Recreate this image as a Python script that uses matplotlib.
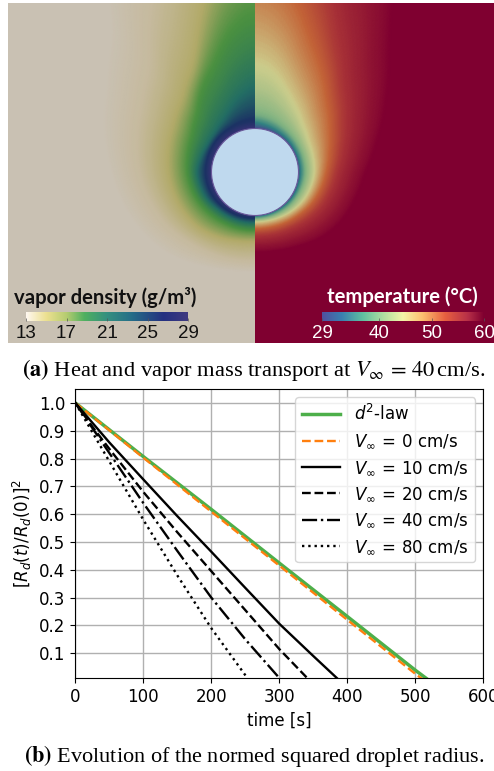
import matplotlib
matplotlib.use("Agg")
import matplotlib.pyplot as plt
import numpy as np
from matplotlib.colors import LinearSegmentedColormap, Normalize
from matplotlib.patches import Circle
from matplotlib.transforms import Bbox, TransformedBbox

# angle from the flow axis (0 = up, 180 = down), degrees
angles = [0, 5, 10, 15, 20, 25, 30, 45, 60, 75, 90, 105, 120, 135, 150, 165, 180]

# radius (in droplet radii) at which each level is reached, per angle
vapor_levels = [29, 27, 24, 20.5, 17, 14.5, 13]
vapor_radii = [
    [1.00] * 17,
    [1.20, 1.195, 1.19, 1.185, 1.18, 1.175, 1.17, 1.17, 1.16, 1.15, 1.15, 1.14, 1.13, 1.11, 1.09, 1.08, 1.07],
    [2.00, 1.90, 1.80, 1.70, 1.60, 1.50, 1.42, 1.30, 1.27, 1.30, 1.35, 1.31, 1.28, 1.22, 1.20, 1.19, 1.18],
    [3.70, 3.50, 3.30, 3.00, 2.70, 2.52, 2.38, 1.90, 1.68, 1.60, 1.56, 1.51, 1.46, 1.41, 1.37, 1.36, 1.35],
    [7.00, 6.00, 5.00, 4.25, 3.65, 3.15, 2.80, 2.35, 2.15, 2.05, 1.98, 1.92, 1.87, 1.82, 1.72, 1.63, 1.59],
    [10.0, 9.60, 9.00, 7.50, 6.20, 5.30, 4.70, 3.40, 3.00, 2.80, 2.65, 2.50, 2.38, 2.22, 2.13, 2.08, 2.05],
    [13.0, 12.5, 12.0, 10.3, 9.00, 7.90, 7.00, 4.70, 4.00, 3.65, 3.35, 3.15, 2.95, 2.75, 2.50, 2.35, 2.30],
]

temp_levels = [29, 33, 37, 42, 49, 55, 60]
temp_radii = [
    [1.00] * 17,
    [1.15, 1.135, 1.12, 1.11, 1.10, 1.09, 1.08, 1.07, 1.06, 1.06, 1.06, 1.05, 1.05, 1.04, 1.03, 1.03, 1.03],
    [1.35, 1.335, 1.32, 1.30, 1.28, 1.26, 1.24, 1.20, 1.18, 1.17, 1.17, 1.15, 1.13, 1.12, 1.10, 1.09, 1.09],
    [2.50, 2.45, 2.35, 2.20, 2.05, 1.92, 1.80, 1.55, 1.42, 1.39, 1.38, 1.34, 1.30, 1.25, 1.20, 1.17, 1.16],
    [5.00, 4.75, 4.40, 3.95, 3.50, 3.20, 2.95, 2.35, 2.00, 1.78, 1.65, 1.57, 1.50, 1.42, 1.37, 1.33, 1.32],
    [8.00, 7.30, 6.50, 5.60, 4.80, 4.20, 3.70, 2.85, 2.40, 2.10, 1.90, 1.80, 1.72, 1.62, 1.54, 1.50, 1.48],
    [12.0, 11.6, 11.0, 9.80, 8.50, 7.40, 6.50, 4.50, 3.60, 3.00, 2.60, 2.45, 2.35, 2.20, 2.02, 1.92, 1.88],
]

vapor_ticks = [13, 17, 21, 25, 29]
temp_ticks = [29, 40, 50, 60]

# evaporation curves
t_d2 = [0, 100, 200, 300, 400, 500, 517]
r_d2 = [1.0, 0.807, 0.617, 0.424, 0.232, 0.039, 0.008]
t_0 = [0, 100, 200, 300, 400, 500, 512]
r_0 = [1.0, 0.803, 0.609, 0.415, 0.220, 0.026, 0.004]
t_10 = [0, 25, 50, 100, 150, 200, 250, 300, 350, 385]
r_10 = [1.0, 0.929, 0.858, 0.725, 0.593, 0.465, 0.335, 0.206, 0.09, 0.01]
t_20 = [0, 25, 50, 100, 150, 200, 250, 300, 341]
r_20 = [1.0, 0.915, 0.835, 0.68, 0.535, 0.395, 0.255, 0.115, 0.011]
t_40 = [0, 25, 50, 100, 150, 200, 250, 300]
r_40 = [1.0, 0.91, 0.82, 0.64, 0.468, 0.30, 0.15, 0.011]
t_80 = [0, 25, 50, 100, 150, 200, 253]
r_80 = [1.0, 0.895, 0.79, 0.58, 0.38, 0.19, 0.011]

W, H = 494, 771


def px_axes(fig, x0, y0, x1, y1):
    return fig.add_axes([x0 / W, 1 - y1 / H, (x1 - x0) / W, (y1 - y0) / H])


def box_smooth(a, n, axis):
    pad = [(0, 0), (0, 0)]
    pad[axis] = (n, n)
    a = np.pad(a, pad, mode="reflect" if axis == 1 else "edge")
    kernel = np.ones(n) / n
    a = np.apply_along_axis(lambda v: np.convolve(v, kernel, mode="same"), axis, a)
    return a[n:-n] if axis == 0 else a[:, n:-n]


def draw_field(ax, radii, levels, side, cmap, norm):
    # the table is coarse, so resample it to get a continuous shading
    th = np.arange(0.0, 181.0)
    log_r = np.array([np.interp(th, angles, row) for row in np.log(radii)])
    s = np.arange(len(levels))
    s_fine = np.linspace(0, len(levels) - 1, 90)
    log_r = np.array([np.interp(s_fine, s, col) for col in log_r.T]).T
    for _ in range(2):
        log_r = box_smooth(log_r, 7, 1)
        log_r = box_smooth(log_r, 5, 0)
    r = np.exp(log_r)
    r[0] = 0.9  # hidden by the droplet
    c = np.interp(s_fine, s, levels)[:, None] * np.ones(len(th))
    x = side * r * np.sin(np.radians(th))
    y = r * np.cos(np.radians(th))
    mesh = ax.pcolormesh(x, y, c, shading="gouraud", cmap=cmap, norm=norm)
    # keep the two halves from bleeding over the centre line
    x0, x1 = ax.get_xlim()
    y0, y1 = ax.get_ylim()
    half = Bbox([[0, y0], [x1, y1]]) if side > 0 else Bbox([[x0, y0], [0, y1]])
    mesh.set_clip_box(TransformedBbox(half, ax.transData))


def colorbar(fig, x0, x1, ticks, cmap, color):
    ax = px_axes(fig, x0, 312, x1, 321)
    grad = np.linspace(ticks[0], ticks[-1], 256)[None, :]
    ax.imshow(grad, aspect="auto", cmap=cmap, extent=[ticks[0], ticks[-1], 0, 1])
    ax.set_yticks([])
    ax.set_xticks(ticks)
    ax.set_xticklabels([str(v) for v in ticks], family="Liberation Sans", fontsize=13.5, color=color)
    ax.tick_params(axis="x", direction="in", length=2, width=0.5, color="#555555", pad=3)
    for s in ax.spines.values():
        s.set_visible(False)


def main():
    vapor_field = LinearSegmentedColormap.from_list("vf", [
        (0.0, "#c9c1b3"), (1.5 / 16, "#c6ba9e"), (4 / 16, "#b2aa69"), (7.5 / 16, "#4a9040"),
        (11 / 16, "#236e64"), (14 / 16, "#1c3264"), (1.0, "#3c3278")])
    temp_field = LinearSegmentedColormap.from_list("tf", [
        (0.0, "#4a4a90"), (4 / 31, "#328282"), (8 / 31, "#82b482"), (13 / 31, "#cdcd8c"),
        (20 / 31, "#c36437"), (26 / 31, "#a83237"), (1.0, "#7f0030")])
    vapor_bar = LinearSegmentedColormap.from_list("vb", [
        (0.0, "#fff8f0"), (0.125, "#ece090"), (0.25, "#b5cc70"), (0.36, "#50b060"),
        (0.5, "#349080"), (0.65, "#256e88"), (0.85, "#243080"), (1.0, "#403a80")])
    temp_bar = LinearSegmentedColormap.from_list("tb", [
        (0.0, "#5050a0"), (0.12, "#3a80b0"), (0.25, "#60c0a0"), (0.38, "#b0e0a0"), (0.5, "#f4f4a8"),
        (0.62, "#fdc070"), (0.76, "#e86040"), (0.9, "#b83048"), (1.0, "#800030")])

    fig = plt.figure(figsize=(W / 100, H / 100), dpi=100)

    # upper panel
    ax = px_axes(fig, 8, 3, 494, 343)
    ax.axis("off")
    R = 43.5
    ax.set_xlim((8 - 255) / R, (494 - 255) / R)
    ax.set_ylim((172 - 343) / R, (172 - 3) / R)
    ax.add_patch(plt.Rectangle((-10, -10), 10, 20, color="#c9c1b3", lw=0, zorder=0))
    ax.add_patch(plt.Rectangle((0, -10), 10, 20, color="#7f0030", lw=0, zorder=0))
    draw_field(ax, vapor_radii, vapor_levels, -1, vapor_field, Normalize(13, 29))
    draw_field(ax, temp_radii, temp_levels, 1, temp_field, Normalize(29, 60))
    ax.set_xlim((8 - 255) / R, (494 - 255) / R)
    ax.set_ylim((172 - 343) / R, (172 - 3) / R)
    ax.add_patch(Circle((0, 0), 1.0, fc="#bfd9ee", ec="#6a5a9a", lw=0.8, zorder=5))

    fig.text(14 / W, 1 - 297 / H, "vapor density (g/m³)", family="Lato", weight="bold",
             fontsize=14.6, color="#111111", va="center")
    fig.text(327 / W, 1 - 297 / H, "temperature (°C)", family="Lato", weight="bold",
             fontsize=14.6, color="white", va="center")
    colorbar(fig, 26, 188, vapor_ticks, vapor_bar, "#111111")
    colorbar(fig, 322, 484, temp_ticks, temp_bar, "white")

    fig.text(254 / W, 1 - 370 / H, r"$\mathbf{(a)}$ Heat and vapor mass transport at $V_\infty\,=\,40\,$cm/s.",
             family="Liberation Serif", math_fontfamily="stix", fontsize=16.2, ha="center", va="center")

    # lower panel
    ax = px_axes(fig, 75.3, 389, 483.3, 678)
    ax.plot(t_d2, r_d2, color="#4daf4a", lw=2.5, label=r"$d^2$-law")
    ax.plot(t_0, r_0, color="#ff7f0e", lw=1.7, ls="--", label=r"$V_\infty\,=\,0$ cm/s")
    ax.plot(t_10, r_10, color="black", lw=1.7, ls="-", label=r"$V_\infty\,=\,10$ cm/s")
    ax.plot(t_20, r_20, color="black", lw=1.7, ls="--", label=r"$V_\infty\,=\,20$ cm/s")
    ax.plot(t_40, r_40, color="black", lw=1.7, ls="-.", label=r"$V_\infty\,=\,40$ cm/s")
    ax.plot(t_80, r_80, color="black", lw=1.7, ls=":", label=r"$V_\infty\,=\,80$ cm/s")
    ax.set_xlim(0, 600)
    ax.set_ylim(0.011, 1.05)
    ax.set_xticks([0, 100, 200, 300, 400, 500, 600])
    ax.set_yticks([0.1, 0.2, 0.3, 0.4, 0.5, 0.6, 0.7, 0.8, 0.9, 1.0])
    ax.tick_params(labelsize=12)
    ax.grid(True, lw=1.0)
    ax.set_xlabel("time [s]", fontsize=12)
    ax.set_ylabel(r"$[R_d(t)/R_d(0)]^2$", fontsize=12)
    ax.legend(loc="upper right", fontsize=12, handlelength=2.3)

    fig.text(254 / W, 1 - 756 / H, r"$\mathbf{(b)}$ Evolution of the normed squared droplet radius.",
             family="Liberation Serif", math_fontfamily="stix", fontsize=16, ha="center", va="center")

    fig.savefig("out.png", dpi=100)


if __name__ == "__main__":
    main()
